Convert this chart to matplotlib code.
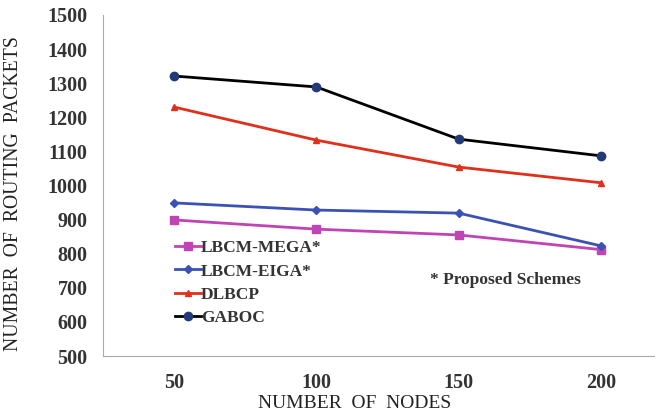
import matplotlib.pyplot as plt
import numpy as np

# data
nodes = ['50', '100', '150', '200']
mega = [899, 872, 855, 812]
eiga = [949, 928, 919, 823]
dlbcp = [1230, 1133, 1054, 1008]
gaboc = [1321, 1289, 1136, 1087]

plt.rcParams['font.family'] = ['Liberation Serif', 'DejaVu Serif']

fig = plt.figure(figsize=(6.55, 4.15), dpi=100)
ax = fig.add_axes([103/655, 1 - 356/415, 1 - 103/655, (356 - 15)/415])

x = np.arange(len(nodes))
ax.plot(x, mega, color='#c044b4', marker='s', markersize=6, linewidth=2, label='LBCM-MEGA*')
ax.plot(x, eiga, color='#3b52b4', marker='D', markersize=4, linewidth=2, label='LBCM-EIGA*')
ax.plot(x, dlbcp, color='#e0301c', marker='^', markersize=5, linewidth=2, label='DLBCP')
ax.plot(x, gaboc, color='black', marker='o', markersize=6, markerfacecolor='#233a78',
        markeredgecolor='#233a78', linewidth=2, label='GABOC')

ax.set_xlim(-0.5, 3.38)
ax.set_ylim(500, 1500)
ax.set_xticks(x)
ax.set_xticklabels(nodes)
ax.set_yticks(np.arange(500, 1501, 100))
ax.tick_params(length=0, labelsize=14.5, colors='#333333')
ax.tick_params(axis='x', pad=12)
ax.tick_params(axis='y', pad=11)
for t in ax.get_xticklabels() + ax.get_yticklabels():
    t.set_fontweight('bold')

for s in ['top', 'right']:
    ax.spines[s].set_visible(False)
for s in ['left', 'bottom']:
    ax.spines[s].set_color('#aaaaaa')

ax.set_xlabel('NUMBER  OF  NODES', fontsize=14, color='#222222', va='center')
ax.xaxis.set_label_coords((355 - 103)/552, -(403 - 356)/341)
ax.set_ylabel('NUMBER  OF  ROUTING  PACKETS', fontsize=14.2, color='#222222', va='center')
ax.yaxis.set_label_coords(-(103 - 14)/552, 1 - (194 - 15)/341)

leg = ax.legend(loc='center left', bbox_to_anchor=(72/552, 1 - (283 - 15)/341), frameon=False,
                prop={'weight': 'bold', 'size': 12.5}, handlelength=1.5, handletextpad=0.0,
                labelspacing=0.4, borderaxespad=0, borderpad=0)
for t in leg.get_texts():
    t.set_color('#333333')

ax.text((430 - 103)/552, 1 - (280 - 15)/341, '* Proposed Schemes', transform=ax.transAxes,
        fontsize=12.5, fontweight='bold', color='#333333', va='center')

fig.savefig('out.png', dpi=100)
